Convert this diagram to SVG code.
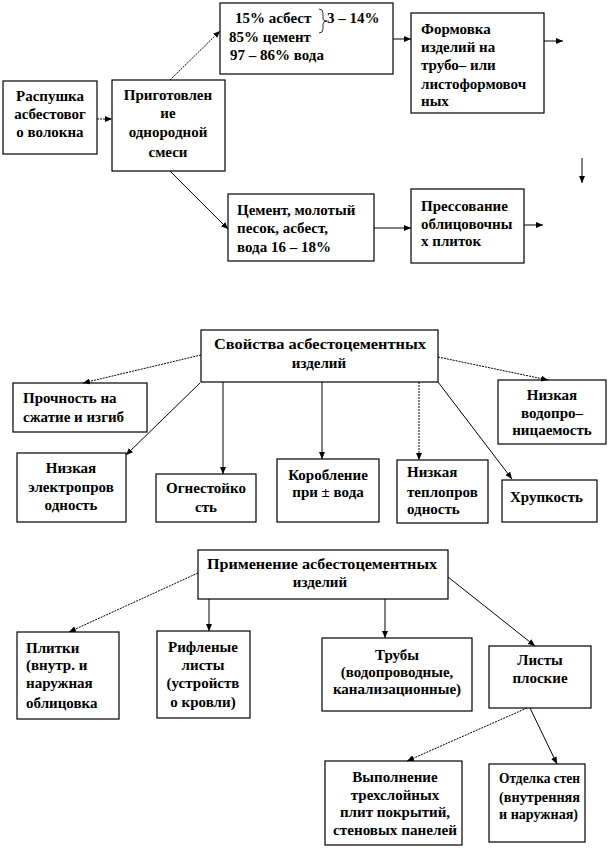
<svg xmlns="http://www.w3.org/2000/svg" width="609" height="848" viewBox="0 0 609 848">
<defs>
<marker id="ah" markerWidth="7" markerHeight="6" refX="7" refY="3" orient="auto" markerUnits="userSpaceOnUse">
<path d="M0,0 L7,3 L0,6 z" fill="#000"/>
</marker>
<style>
.b{fill:#fff;stroke:#000;stroke-width:1.2}
.t{font-family:'Liberation Serif','DejaVu Serif',serif;font-weight:bold;font-size:15px;fill:#000}
.m{text-anchor:middle}
.c{fill:none;stroke:#000;stroke-width:1;marker-end:url(#ah)}
.d{stroke-dasharray:2,1}
</style>
</defs>
<rect width="609" height="848" fill="#fff"/>

<g id="n-raspushka">
<rect class="b" x="3" y="81" width="94" height="73"/>
<text class="t m"><tspan x="50" y="101">Распушка</tspan><tspan x="50" y="119">асбестовог</tspan><tspan x="50" y="137">о волокна</tspan></text>
</g>
<g id="n-prigotovlenie">
<rect class="b" x="112" y="80" width="113" height="91"/>
<text class="t m"><tspan x="168" y="100">Приготовлен</tspan><tspan x="168" y="118">ие</tspan><tspan x="168" y="137">однородной</tspan><tspan x="168" y="157">смеси</tspan></text>
</g>
<g id="n-sostav1">
<rect class="b" x="220" y="3" width="173" height="71"/>
<text class="t"><tspan x="235" y="23">15%  асбест</tspan><tspan x="229" y="42">85%  цемент</tspan><tspan x="230" y="60">97 – 86% вода</tspan></text>
<text class="t" x="327" y="23">3 – 14%</text>
<path d="M319,9 Q323,9 323,13 L323,19 Q323,21 327,21 Q323,21 323,24 L323,29 Q323,33 319,33" fill="none" stroke="#000" stroke-width="0.8"/>
</g>
<g id="n-sostav2">
<rect class="b" x="228" y="194" width="146" height="67"/>
<text class="t"><tspan x="237" y="215">Цемент, молотый</tspan><tspan x="237" y="233">песок, асбест,</tspan><tspan x="237" y="252">вода 16 – 18%</tspan></text>
</g>
<g id="n-formovka">
<rect class="b" x="411" y="13" width="133" height="100"/>
<text class="t"><tspan x="421" y="34">Формовка</tspan><tspan x="421" y="52">изделий на</tspan><tspan x="421" y="70">трубо– или</tspan><tspan x="421" y="89">листоформовоч</tspan><tspan x="421" y="106">ных</tspan></text>
</g>
<g id="n-pressovanie">
<rect class="b" x="411" y="189" width="113" height="74"/>
<text class="t"><tspan x="421" y="211">Прессование</tspan><tspan x="421" y="229">облицовочны</tspan><tspan x="421" y="246">х плиток</tspan></text>
</g>

<g id="n-svoistva">
<rect class="b" x="201" y="330" width="237" height="52"/>
<text class="t m" x="320" y="349" textLength="212" lengthAdjust="spacingAndGlyphs">Свойства асбестоцементных</text>
<text class="t m" x="319" y="368">изделий</text>
</g>
<g id="n-prochnost">
<rect class="b" x="13" y="383" width="134" height="49"/>
<text class="t"><tspan x="23" y="403">Прочность на</tspan><tspan x="23" y="422">сжатие и изгиб</tspan></text>
</g>
<g id="n-elektro">
<rect class="b" x="17" y="453" width="109" height="69"/>
<text class="t m"><tspan x="71" y="473">Низкая</tspan><tspan x="71" y="492">электропров</tspan><tspan x="71" y="510">одность</tspan></text>
</g>
<g id="n-ogne">
<rect class="b" x="156" y="474" width="100" height="48"/>
<text class="t m"><tspan x="206" y="493">Огнестойко</tspan><tspan x="206" y="512">сть</tspan></text>
</g>
<g id="n-koroblenie">
<rect class="b" x="277" y="459" width="102" height="63"/>
<text class="t m"><tspan x="328" y="480">Коробление</tspan><tspan x="328" y="497">при ± вода</tspan></text>
</g>
<g id="n-teplo">
<rect class="b" x="397" y="460" width="91" height="63"/>
<text class="t"><tspan x="407" y="477">Низкая</tspan><tspan x="407" y="497">теплопров</tspan><tspan x="407" y="514">одность</tspan></text>
</g>
<g id="n-hrupkost">
<rect class="b" x="502" y="480" width="95" height="42"/>
<text class="t" x="510" y="502">Хрупкость</text>
</g>
<g id="n-vodopro">
<rect class="b" x="498" y="380" width="108" height="64"/>
<text class="t m"><tspan x="552" y="400">Низкая</tspan><tspan x="552" y="418">водопро–</tspan><tspan x="552" y="435">ницаемость</tspan></text>
</g>

<g id="n-primenenie">
<rect class="b" x="198" y="550" width="250" height="49"/>
<text class="t m" x="322" y="569" textLength="230" lengthAdjust="spacingAndGlyphs">Применение асбестоцементных</text>
<text class="t m" x="320" y="587">изделий</text>
</g>
<g id="n-plitki">
<rect class="b" x="17" y="632" width="102" height="87"/>
<text class="t"><tspan x="26" y="653">Плитки</tspan><tspan x="26" y="670">(внутр. и</tspan><tspan x="26" y="688">наружная</tspan><tspan x="26" y="708">облицовка</tspan></text>
</g>
<g id="n-riflenye">
<rect class="b" x="157" y="631" width="93" height="87"/>
<text class="t m"><tspan x="203" y="652">Рифленые</tspan><tspan x="203" y="670">листы</tspan><tspan x="203" y="688">(устройств</tspan><tspan x="203" y="707">о кровли)</tspan></text>
</g>
<g id="n-truby">
<rect class="b" x="322" y="638" width="150" height="73"/>
<text class="t m"><tspan x="397" y="660">Трубы</tspan><tspan x="397" y="677">(водопроводные,</tspan><tspan x="397" y="694">канализационные)</tspan></text>
</g>
<g id="n-listy">
<rect class="b" x="489" y="646" width="102" height="62"/>
<text class="t m"><tspan x="540" y="665">Листы</tspan><tspan x="540" y="683">плоские</tspan></text>
</g>
<g id="n-vypolnenie">
<rect class="b" x="325" y="761" width="137" height="84"/>
<text class="t m"><tspan x="395" y="782">Выполнение</tspan><tspan x="395" y="800">трехслойных</tspan><tspan x="395" y="817">плит покрытий,</tspan></text>
<text class="t m" x="395" y="835" textLength="124" lengthAdjust="spacingAndGlyphs">стеновых панелей</text>
</g>
<g id="n-otdelka">
<rect class="b" x="489" y="764" width="96" height="78"/>
<text class="t" x="499" y="783" textLength="81" lengthAdjust="spacingAndGlyphs">Отделка стен</text>
<text class="t" x="499" y="802" textLength="81" lengthAdjust="spacingAndGlyphs">(внутренняя</text>
<text class="t" x="499" y="819" textLength="79" lengthAdjust="spacingAndGlyphs">и наружная)</text>
</g>

<g id="connectors">
<line class="c d" x1="97" y1="119" x2="112" y2="119"/>
<line class="c d" x1="170" y1="80" x2="220" y2="31"/>
<line class="c" x1="170" y1="171" x2="228" y2="229"/>
<line class="c" x1="393" y1="39" x2="411" y2="39"/>
<line class="c" x1="544" y1="41" x2="563" y2="41"/>
<line class="c" x1="582" y1="158" x2="582" y2="183"/>
<line class="c" x1="374" y1="228" x2="411" y2="228"/>
<line class="c" x1="524" y1="225" x2="543" y2="225"/>

<line class="c d" x1="201" y1="355" x2="83" y2="383"/>
<line class="c" x1="200" y1="383" x2="126" y2="455"/>
<line class="c" x1="223" y1="382" x2="223" y2="474"/>
<line class="c" x1="322" y1="382" x2="322" y2="459"/>
<line class="c d" x1="419" y1="382" x2="419" y2="460"/>
<line class="c" x1="438" y1="382" x2="512" y2="479"/>
<line class="c d" x1="438" y1="357" x2="548" y2="380"/>

<line class="c d" x1="198" y1="573" x2="69" y2="632"/>
<line class="c" x1="209" y1="599" x2="209" y2="631"/>
<line class="c" x1="385" y1="599" x2="385" y2="638"/>
<line class="c" x1="448" y1="577" x2="535" y2="646"/>
<line class="c d" x1="527" y1="708" x2="407" y2="761"/>
<line class="c" x1="530" y1="708" x2="557" y2="764"/>
</g>
</svg>
